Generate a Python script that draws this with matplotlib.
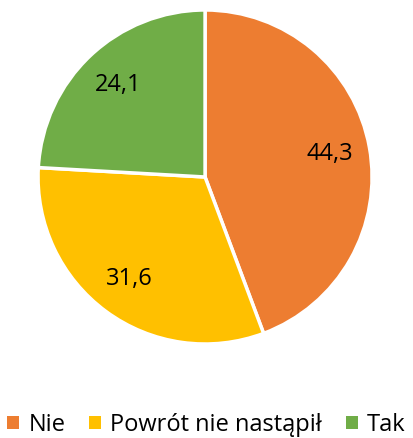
import matplotlib
matplotlib.use("Agg")
import matplotlib.pyplot as plt

plt.rcParams['font.family'] = ['Open Sans', 'DejaVu Sans']

# shares of answers, percent
categories = ['Nie', 'Powrót nie nastąpił', 'Tak']
values = [44.3, 31.6, 24.1]
colors = ['#ED7D31', '#FFC000', '#70AD47']

fig = plt.figure(figsize=(4.13, 4.38), dpi=100)
ax = fig.add_axes([0.092, 0.2146, 0.809, 0.7626])

wedges, texts, autotexts = ax.pie(
    values, colors=colors, startangle=90, counterclock=False,
    autopct=lambda p: f"{p:.1f}".replace('.', ','), pctdistance=0.76,
    wedgeprops=dict(edgecolor='white', linewidth=2.5),
    textprops=dict(fontsize=17, color='black'))
ax.set_xlim(-1.0, 1.0)
ax.set_ylim(-1.0, 1.0)

fig.legend(wedges, categories, loc='center', bbox_to_anchor=(0.5, 0.03),
           ncol=3, frameon=False, fontsize=17, handlelength=0.5,
           handleheight=0.5, handletextpad=0.4, columnspacing=1.0,
           borderpad=0.2)
for h in fig.legends[0].legend_handles:
    h.set_linewidth(0)

fig.savefig('out.png', dpi=100)
